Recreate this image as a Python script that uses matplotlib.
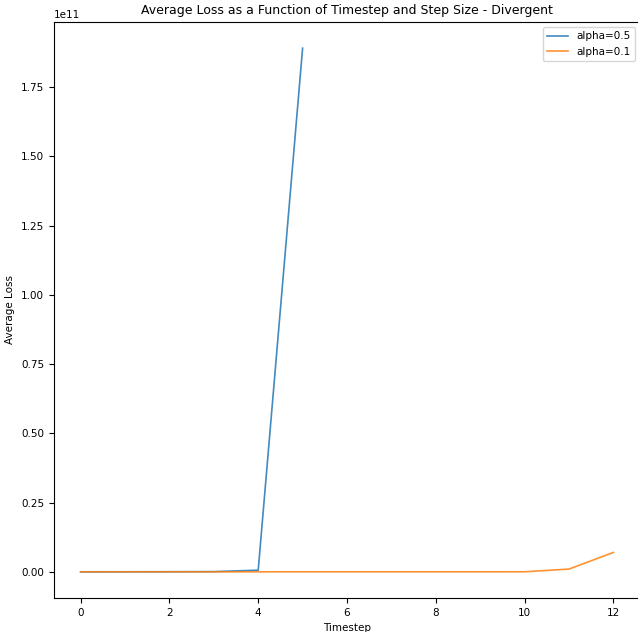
import matplotlib
matplotlib.use('Agg')
import matplotlib.pyplot as plt
import numpy as np

# average loss per timestep for two step sizes
steps_a05 = [0, 1, 2, 3, 4, 5]
loss_a05 = [1.0e7, 2.0e7, 4.0e7, 8.0e7, 6.0e8, 1.89e11]
steps_a01 = [0, 1, 2, 3, 4, 5, 6, 7, 8, 9, 10, 11, 12]
loss_a01 = [1.0e7, 1.0e7, 1.0e7, 1.0e7, 1.0e7, 1.0e7, 1.0e7, 1.0e7,
            1.0e7, 1.0e7, 2.0e7, 1.0e9, 7.0e9]

plt.rcParams['font.size'] = 7.5

fig = plt.figure(figsize=(6.38, 6.32), dpi=100)
ax = fig.add_axes([54/638, 34/632, 586/638, 576/632])
ax.plot(steps_a05, loss_a05, label='alpha=0.5', lw=1.2, alpha=0.85)
ax.plot(steps_a01, loss_a01, label='alpha=0.1', lw=1.2, alpha=0.85)
ax.set_title('Average Loss as a Function of Timestep and Step Size - Divergent')
ax.set_xlabel('Timestep')
ax.set_ylabel('Average Loss')
ax.legend(loc='upper right')

plt.savefig('out.png', dpi=100)
